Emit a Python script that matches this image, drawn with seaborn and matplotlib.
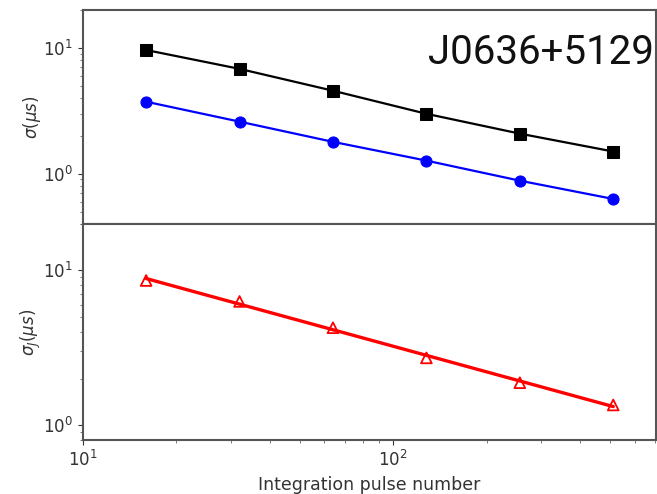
import matplotlib
matplotlib.use("Agg")
import matplotlib.pyplot as plt
import seaborn as sns
import pandas as pd
import numpy as np

pulse_numbers = [16, 32, 64, 128, 256, 512]
sigma_black = [9.6, 6.8, 4.56, 2.99, 2.08, 1.50]
sigma_blue = [3.73, 2.59, 1.79, 1.27, 0.88, 0.63]
sigma_jitter = [8.6, 6.3, 4.26, 2.72, 1.88, 1.35]
pulsar_name = "J0636+5129"

sns.set_style("ticks")
plt.rcParams['font.family'] = ['DejaVu Sans']

fig = plt.figure(figsize=(6.57, 4.94), dpi=100)
ax1 = fig.add_axes([0.126, 0.547, 0.873, 0.433])
ax2 = fig.add_axes([0.126, 0.109, 0.873, 0.438])

df = pd.DataFrame({"n": pulse_numbers, "black": sigma_black,
                   "blue": sigma_blue, "jit": sigma_jitter})

# power-law fit of the jitter values (straight line in log-log)
coef = np.polyfit(np.log10(df["n"]), np.log10(df["jit"]), 1)
df["jit_fit"] = 10 ** np.polyval(coef, np.log10(df["n"]))

sns.lineplot(data=df, x="n", y="black", ax=ax1, color="black", marker="s",
             markersize=8, linewidth=1.6, markeredgecolor="black")
sns.lineplot(data=df, x="n", y="blue", ax=ax1, color="blue", marker="o",
             markersize=8, linewidth=1.6, markeredgecolor="blue")
sns.lineplot(data=df, x="n", y="jit_fit", ax=ax2, color="red", linewidth=2.4)
sns.scatterplot(data=df, x="n", y="jit", ax=ax2, marker="^", s=60,
                facecolor="none", edgecolor="red", linewidth=1.3, zorder=3)

for ax in (ax1, ax2):
    ax.set_xscale("log")
    ax.set_yscale("log")
    ax.set_xlim(10, 705)
    for s in ax.spines.values():
        s.set_color("#555555")
        s.set_linewidth(1.5)
    ax.tick_params(labelsize=12, colors="#333333", direction="out")
    ax.tick_params(which="minor", colors="#666666")

ax1.set_ylim(0.40, 20)
ax2.set_ylim(0.80, 20)
ax1.set_xticks([])
ax1.set_xticks([], minor=True)
ax1.set_xlabel("")
ax1.set_ylabel(r"$\sigma(\mu s)$", fontsize=12, color="#333333")
ax2.set_ylabel(r"$\sigma_J(\mu s)$", fontsize=12, color="#333333")
ax2.set_xlabel("Integration pulse number", fontsize=12.5, color="#333333")
ax1.yaxis.set_label_coords(-0.07, 0.5)
ax2.yaxis.set_label_coords(-0.07, 0.5)

ax1.text(0.995, 0.80, pulsar_name, transform=ax1.transAxes, ha="right",
         va="center", fontsize=29, family=["Roboto", "DejaVu Sans"],
         color="#111111")

fig.savefig("out.png", dpi=100)
